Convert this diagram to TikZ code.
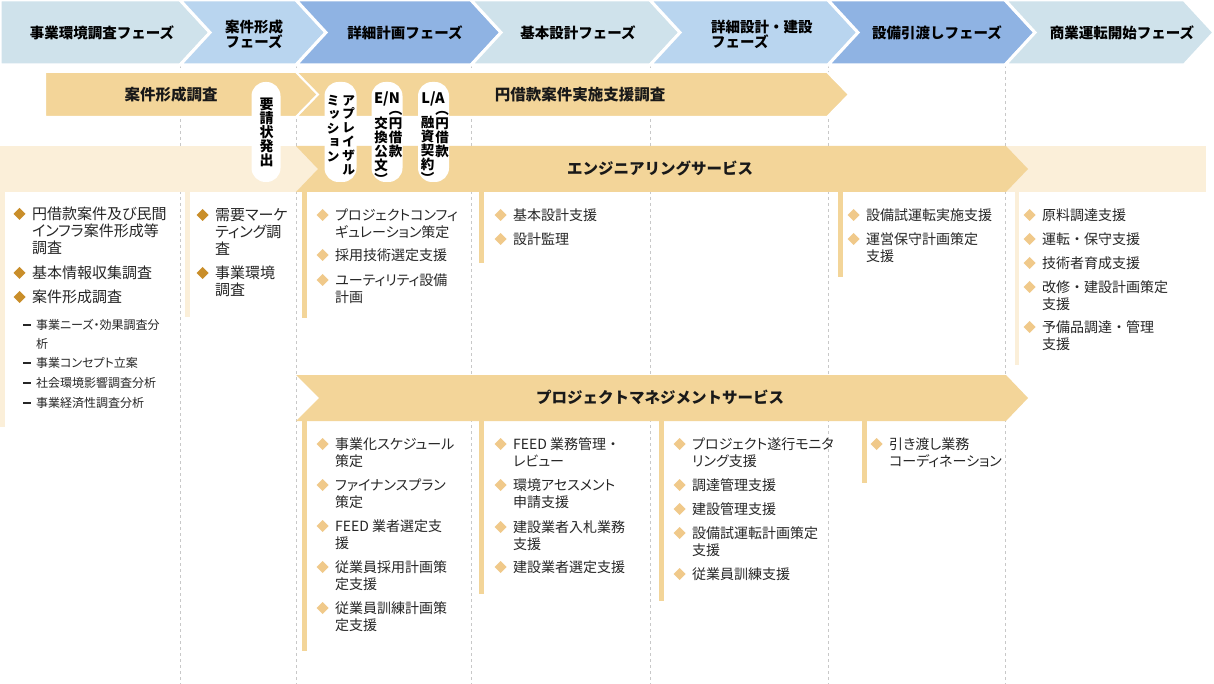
\documentclass[tikz,border=0pt]{standalone}
\usepackage{fontspec}
\setmainfont{Noto Sans CJK JP}[RawFeature=+palt]
\newfontfamily\hfont{Noto Sans CJK JP}
\newfontfamily\vfont{Noto Sans CJK JP}[RawFeature=+vert]
\newcommand{\zdot}{\makebox[1em]{・}}
\definecolor{cA}{HTML}{CFE2EB}
\definecolor{cB}{HTML}{B9D5EF}
\definecolor{cC}{HTML}{8FB3E3}
\definecolor{org}{HTML}{F3D599}
\definecolor{crm}{HTML}{FBEFD9}
\definecolor{gold}{HTML}{C98E2A}
\definecolor{ldia}{HTML}{F0C98A}
\definecolor{dashc}{HTML}{C8C8C8}
\definecolor{txt}{HTML}{262626}
\newcommand\itm[6]{%
  \node[item,#4] (#1) at (#2,#3-9.5) {\rule{0pt}{14.5pt}#6};
  \fill[#5] (#2-12.5,#3-6) -- (#2-6.5,#3) -- (#2-12.5,#3+6) -- (#2-18.5,#3) -- cycle;
}
\newcommand\sub[4]{%
  \node[item,fS] (#1) at (#2,#3-7.5) {\rule{0pt}{12pt}#4};
  \draw[txt, line width=1.1pt] (#2-13,#3) -- (#2-5,#3);
}
\begin{document}
\begin{tikzpicture}[x=1pt,y=-1pt,
  chev/.style={draw=white, line width=3pt, line join=miter},
  phase/.style={font=\hfont\bfseries\fontsize{14.5}{15}\selectfont, text=black, align=center, inner sep=0pt},
  bandlbl/.style={font=\hfont\bfseries\fontsize{15.5}{18}\selectfont, text=black!90, inner sep=0pt},
  pill/.style={fill=white, rounded corners=14pt, minimum height=100pt, inner sep=0pt},
  vtxt/.style={font=\vfont\bfseries\fontsize{13.5}{14}\selectfont, align=center, anchor=north, inner sep=0pt, text=black},
  hlab/.style={font=\hfont\bfseries\fontsize{14.5}{15}\selectfont, inner sep=0pt, text=black},
  item/.style={anchor=north west, align=left, inner sep=0pt, text=txt},
  fA/.style={font=\fontsize{15}{17}\selectfont},
  fB/.style={font=\fontsize{14}{17}\selectfont},
  fS/.style={font=\fontsize{12}{19}\selectfont},
  dline/.style={dashc, line width=0.8pt, dash pattern=on 3pt off 3pt}
]
\useasboundingbox (0,0) rectangle (1214,684);
\fill[white] (0,0) rectangle (1214,684);

% dashed column separators
\foreach \xx in {180,296,471,650,828,1005} \draw[dline] (\xx,65) -- (\xx,684);

% phase chevrons
\filldraw[chev, fill=cA] (0,0) -- (180,0) -- (210,32.5) -- (180,65) -- (0,65) -- cycle;
\filldraw[chev, fill=cB] (180,0) -- (296,0) -- (326,32.5) -- (296,65) -- (180,65) -- (210,32.5) -- cycle;
\filldraw[chev, fill=cC] (296,0) -- (471,0) -- (501,32.5) -- (471,65) -- (296,65) -- (326,32.5) -- cycle;
\filldraw[chev, fill=cA] (471,0) -- (650,0) -- (680,32.5) -- (650,65) -- (471,65) -- (501,32.5) -- cycle;
\filldraw[chev, fill=cB] (650,0) -- (828,0) -- (858,32.5) -- (828,65) -- (650,65) -- (680,32.5) -- cycle;
\filldraw[chev, fill=cC] (828,0) -- (1005,0) -- (1035,32.5) -- (1005,65) -- (828,65) -- (858,32.5) -- cycle;
\filldraw[chev, fill=cA] (1005,0) -- (1184,0) -- (1214,32.5) -- (1184,65) -- (1005,65) -- (1035,32.5) -- cycle;

\node[phase] (ph1) at (102,33) {事業環境調査フェーズ};
\node[phase] (ph2) at (254,34) {案件形成\\フェーズ};
\node[phase] (ph3) at (405,33) {詳細計画フェーズ};
\node[phase] (ph4) at (578,33) {基本設計フェーズ};
\node[phase, align=left, anchor=west] (ph5) at (711,34) {詳細設計\zdot 建設\\フェーズ};
\node[phase] (ph6) at (937,33) {設備引渡しフェーズ};
\node[phase] (ph7) at (1122,33) {商業運転開始フェーズ};

% survey bands
\filldraw[fill=org, draw=white, line width=2pt] (45,72) -- (296,72) -- (318,94.5) -- (296,117) -- (45,117) -- cycle;
\filldraw[fill=org, draw=white, line width=2pt] (296,72) -- (827,72) -- (849,94.5) -- (827,117) -- (296,117) -- (318,94.5) -- cycle;
\node[bandlbl] (b1) at (171,95) {案件形成調査};
\node[bandlbl] (b2) at (580,95) {円借款案件実施支援調査};

% engineering band
\fill[crm] (0,146) rectangle (1206,192);
\fill[org] (296,146) -- (1006,146) -- (1028,169) -- (1006,192) -- (296,192) -- (318,169) -- cycle;
\node[bandlbl] (b3) at (660,168) {エンジニアリングサービス};

% pills
\node[pill, minimum width=29pt] (p1) at (266,132) {};
\node[pill, minimum width=32pt] (p2) at (340.5,132) {};
\node[pill, minimum width=31pt] (p3) at (387,132) {};
\node[pill, minimum width=31pt] (p4) at (433.5,132) {};
\node[vtxt, font=\vfont\bfseries\fontsize{14}{14}\selectfont] (t1) at (266.5,97.5) {要\\請\\状\\発\\出};
\node[vtxt, font=\vfont\bfseries\fontsize{13}{13.8}\selectfont] (t2a) at (348.5,95) {ア\\プ\\レ\\イ\\ザ\\ル};
\node[vtxt, font=\vfont\bfseries\fontsize{13}{14}\selectfont] (t2b) at (333,95) {ミ\\ッ\\シ\\ョ\\ン};
\node[hlab] (t3) at (387,98.5) {E/N};
\node[vtxt] (t3a) at (395.5,111.5) {︵\\円\\借\\款};
\node[vtxt] (t3b) at (381,116.5) {交\\換\\公\\文\\︶};
\node[hlab] (t4) at (433,98.5) {L/A};
\node[vtxt] (t4a) at (442,111.5) {︵\\円\\借\\款};
\node[vtxt] (t4b) at (427.5,116.5) {融\\資\\契\\約\\︶};

% PM band
\fill[org] (296,375) -- (1006,375) -- (1028,398) -- (1006,421) -- (296,421) -- (319,398) -- cycle;
\node[bandlbl] (b4) at (660,397) {プロジェクトマネジメントサービス};

% side bars
\fill[crm] (0,192) rectangle (5,427);
\fill[crm] (185,192) rectangle (190,317);
\fill[org] (302,192) rectangle (307,318);
\fill[org] (479,192) rectangle (484,263);
\fill[org] (838,192) rectangle (843,277);
\fill[crm] (1015,192) rectangle (1019,365);
\fill[org] (302,421) rectangle (307,651);
\fill[org] (479,421) rectangle (484,594);
\fill[org] (659,421) rectangle (664,601);
\fill[org] (862,421) rectangle (867,483);

% column 1
\itm{a1}{32}{214}{fA}{gold}{円借款案件及び民間\\インフラ案件形成等\\調査}
\itm{a2}{32}{273}{fA}{gold}{基本情報収集調査}
\itm{a3}{32}{297}{fA}{gold}{案件形成調査}
\sub{s1}{36}{325}{事業ニーズ・効果調査分\\析}
\sub{s2}{36}{363}{事業コンセプト立案}
\sub{s3}{36}{383}{社会環境影響調査分析}
\sub{s4}{36}{403}{事業経済性調査分析}

% column 2
\itm{c1}{215}{215}{fA}{gold}{需要マーケ\\ティング調\\査}
\itm{c2}{215}{273}{fA}{gold}{事業環境\\調査}

% column 3 (engineering)
\itm{e1}{335}{215}{fB}{ldia}{プロジェクトコンフィ\\ギュレーション策定}
\itm{e2}{335}{255}{fB}{ldia}{採用技術選定支援}
\itm{e3}{335}{280}{fB}{ldia}{ユーティリティ設備\\計画}
% column 4
\itm{e4}{513}{215}{fB}{ldia}{基本設計支援}
\itm{e5}{513}{239}{fB}{ldia}{設計監理}
% column 6
\itm{e6}{866}{215}{fB}{ldia}{設備試運転実施支援}
\itm{e7}{866}{239}{fB}{ldia}{運営保守計画策定\\支援}
% column 7
\itm{e8}{1042}{215}{fB}{ldia}{原料調達支援}
\itm{e9}{1042}{239}{fB}{ldia}{運転\zdot 保守支援}
\itm{e10}{1042}{263}{fB}{ldia}{技術者育成支援}
\itm{e11}{1042}{287}{fB}{ldia}{改修\zdot 建設計画策定\\支援}
\itm{e12}{1042}{327}{fB}{ldia}{予備品調達\zdot 管理\\支援}

% PM columns
\itm{m1}{335}{444}{fB}{ldia}{事業化スケジュール\\策定}
\itm{m2}{335}{485}{fB}{ldia}{ファイナンスプラン\\策定}
\itm{m3}{335}{526}{fB}{ldia}{FEED 業者選定支\\援}
\itm{m4}{335}{567}{fB}{ldia}{従業員採用計画策\\定支援}
\itm{m5}{335}{608}{fB}{ldia}{従業員訓練計画策\\定支援}
\itm{m6}{513}{444}{fB}{ldia}{FEED 業務管理\zdot\\レビュー}
\itm{m7}{513}{485}{fB}{ldia}{環境アセスメント\\申請支援}
\itm{m8}{513}{527}{fB}{ldia}{建設業者入札業務\\支援}
\itm{m9}{513}{567}{fB}{ldia}{建設業者選定支援}
\itm{m10}{692}{444}{fB}{ldia}{プロジェクト遂行モニタ\\リング支援}
\itm{m11}{692}{485}{fB}{ldia}{調達管理支援}
\itm{m12}{692}{509}{fB}{ldia}{建設管理支援}
\itm{m13}{692}{533}{fB}{ldia}{設備試運転計画策定\\支援}
\itm{m14}{692}{574}{fB}{ldia}{従業員訓練支援}
\itm{m15}{889}{444}{fB}{ldia}{引き渡し業務\\コーディネーション}
\end{tikzpicture}
\end{document}
